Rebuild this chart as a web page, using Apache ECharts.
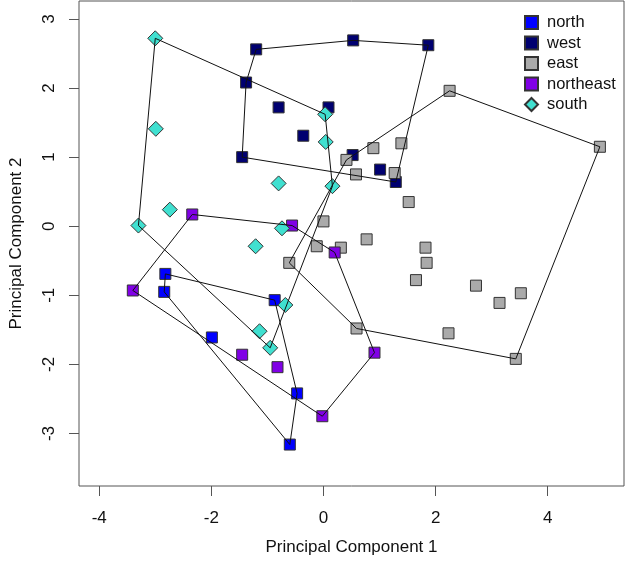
<!DOCTYPE html>
<html>
<head>
<meta charset="utf-8">
<script src="https://cdn.jsdelivr.net/npm/echarts@6/dist/echarts.min.js"></script>
<style>
html,body{margin:0;padding:0;background:#fff;}
#chart{width:627px;height:569px;}
</style>
</head>
<body>
<div id="chart"></div>
<script>
// ---- data ----
const groups = ['north', 'west', 'east', 'northeast', 'south'];

const northX = [-2.82, -2.84, -1.99, -0.87, -0.47, -0.60];
const northY = [-0.69, -0.95, -1.61, -1.07, -2.42, -3.16];

const westX = [-1.20, -1.38, -0.80, 0.09, -0.36, -1.45, 0.53, 1.87, 0.52, 1.01, 1.29];
const westY = [2.56, 2.08, 1.72, 1.72, 1.31, 1.00, 2.69, 2.62, 1.03, 0.82, 0.64];

const eastX = [2.25, 4.93, 0.41, 0.89, 1.39, 0.58, 1.27, 1.52, 0.77, 0.31, 1.82, 0.00, -0.12, -0.61, 1.84, 1.65, 2.72, 3.52, 3.14, 2.23, 3.43, 0.59];
const eastY = [1.96, 1.15, 0.96, 1.13, 1.20, 0.75, 0.77, 0.35, -0.19, -0.31, -0.31, 0.07, -0.29, -0.53, -0.53, -0.78, -0.86, -0.97, -1.11, -1.55, -1.92, -1.48];

const northeastX = [-2.34, -0.56, 0.20, -3.40, -1.45, -0.82, -0.02, 0.91];
const northeastY = [0.17, 0.01, -0.38, -0.93, -1.86, -2.04, -2.75, -1.83];

const southX = [-3.00, -2.99, -3.30, -2.74, -0.80, 0.03, 0.04, 0.16, -0.74, -1.21, -1.14, -0.95, -0.68];
const southY = [2.72, 1.41, 0.01, 0.24, 0.62, 1.62, 1.22, 0.58, -0.03, -0.29, -1.52, -1.76, -1.14];

const xTicks = [-4, -2, 0, 2, 4];
const yTicks = [-3, -2, -1, 0, 1, 2, 3];

// ---- styling ----
const colors = {north: '#0000FF', west: '#000070', east: '#AAAAAA', northeast: '#8000E6', south: '#40E0D0'};
const symbols = {north: 'rect', west: 'rect', east: 'rect', northeast: 'rect', south: 'diamond'};
const sizes = {north: 11, west: 11, east: 11, northeast: 11, south: 15};

const groupData = {
  north: [northX, northY],
  west: [westX, westY],
  east: [eastX, eastY],
  northeast: [northeastX, northeastY],
  south: [southX, southY]
};

function pairs(xs, ys) { return xs.map((x, i) => [x, ys[i]]); }

function convexHull(pts) {
  const p = pts.slice().sort((a, b) => a[0] - b[0] || a[1] - b[1]);
  const cross = (o, a, b) => (a[0]-o[0])*(b[1]-o[1]) - (a[1]-o[1])*(b[0]-o[0]);
  const lower = [];
  for (const q of p) {
    while (lower.length >= 2 && cross(lower[lower.length-2], lower[lower.length-1], q) <= 0) lower.pop();
    lower.push(q);
  }
  const upper = [];
  for (let i = p.length - 1; i >= 0; i--) {
    const q = p[i];
    while (upper.length >= 2 && cross(upper[upper.length-2], upper[upper.length-1], q) <= 0) upper.pop();
    upper.push(q);
  }
  upper.pop(); lower.pop();
  const h = lower.concat(upper);
  h.push(h[0]);
  return h;
}

const series = [];
groups.forEach(g => {
  const pts = pairs(groupData[g][0], groupData[g][1]);
  series.push({
    name: g,
    type: 'scatter',
    symbol: symbols[g],
    symbolSize: sizes[g],
    itemStyle: {color: colors[g], borderColor: '#333', borderWidth: 1, opacity: 1},
    emphasis: {disabled: true},
    data: pts,
    z: 2
  });
});
groups.forEach(g => {
  const pts = pairs(groupData[g][0], groupData[g][1]);
  series.push({
    name: g + ' hull',
    type: 'line',
    data: convexHull(pts),
    showSymbol: false,
    symbol: 'none',
    lineStyle: {color: '#111', width: 1},
    silent: true,
    animation: false,
    z: 3
  });
});

const chart = echarts.init(document.getElementById('chart'), null, {renderer: 'canvas'});
chart.setOption({
  animation: false,
  backgroundColor: '#fff',
  textStyle: {fontFamily: 'Liberation Sans, Arial, sans-serif'},
  grid: {left: 79, right: 3, top: 1, bottom: 83, show: true, borderColor: '#555', borderWidth: 1, backgroundColor: 'transparent'},
  legend: {
    orient: 'vertical',
    left: 524,
    top: 14,
    padding: 0,
    itemWidth: 13,
    itemHeight: 13,
    itemGap: 3.5,
    textStyle: {fontSize: 16.5, color: '#111', padding: [0, 0, 0, 4]},
    data: groups.map(g => ({name: g, icon: symbols[g]})),
    selectedMode: false
  },
  xAxis: {
    type: 'value',
    min: -4.36,
    max: 5.36,
    splitLine: {show: false},
    axisLine: {show: false, onZero: false},
    axisTick: {show: true, customValues: xTicks, length: 10, lineStyle: {color: '#555'}},
    axisLabel: {customValues: xTicks, fontSize: 17, color: '#111', margin: 24},
    name: 'Principal Component 1',
    nameLocation: 'middle',
    nameGap: 53,
    nameTextStyle: {fontSize: 17, color: '#111'}
  },
  yAxis: {
    type: 'value',
    min: -3.76,
    max: 3.26,
    splitLine: {show: false},
    axisLine: {show: false, onZero: false},
    axisTick: {show: true, customValues: yTicks, length: 10, lineStyle: {color: '#555'}},
    axisLabel: {customValues: yTicks, fontSize: 17, color: '#111', margin: 21, rotate: 90},
    name: 'Principal Component 2',
    nameLocation: 'middle',
    nameGap: 54,
    nameTextStyle: {fontSize: 17, color: '#111'}
  },
  series: series
});
</script>
</body>
</html>
